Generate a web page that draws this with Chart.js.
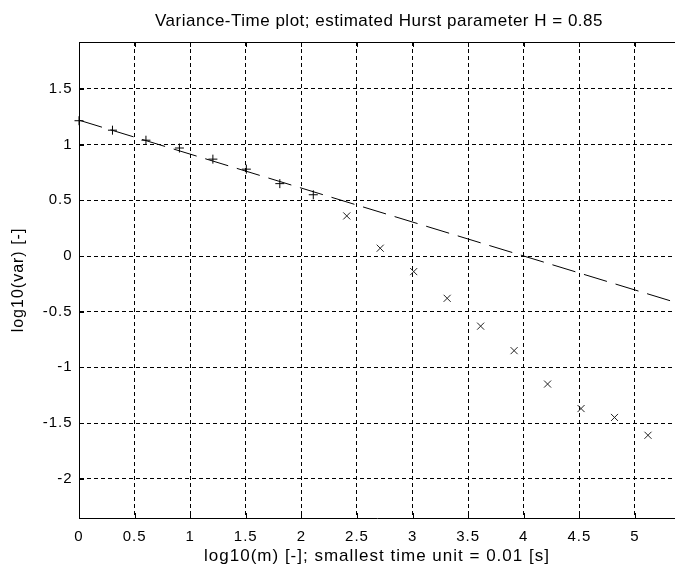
<!DOCTYPE html>
<html>
<head>
<meta charset="utf-8">
<script src="https://cdn.jsdelivr.net/npm/chart.js@4/dist/chart.umd.min.js"></script>
<style>
html,body{margin:0;padding:0;background:#fff;overflow:hidden;}
#wrap{width:675px;height:570px;position:relative;}
</style>
</head>
<body>
<div id="wrap"><canvas id="c" width="675" height="570"></canvas></div>
<script>
const titleText = 'Variance-Time plot; estimated Hurst parameter H = 0.85';
const xLabel = 'log10(m) [-]; smallest time unit = 0.01 [s]';
const yLabel = 'log10(var) [-]';

const fitX = [0, 0.301, 0.602, 0.903, 1.204, 1.505, 1.806, 2.107];
const fitY = [1.215, 1.13, 1.04, 0.97, 0.87, 0.78, 0.65, 0.55];
const restX = [2.408, 2.709, 3.010, 3.311, 3.612, 3.913, 4.214, 4.515, 4.816, 5.117];
const restY = [0.36, 0.07, -0.14, -0.38, -0.63, -0.85, -1.15, -1.37, -1.45, -1.61];
const lineX = [0, 5.36];
const lineY = [1.22, -0.415];

const xTickVals = [0, 0.5, 1, 1.5, 2, 2.5, 3, 3.5, 4, 4.5, 5];
const yTickVals = [-2, -1.5, -1, -0.5, 0, 0.5, 1, 1.5];

const FONT = "'Liberation Sans', Arial, sans-serif";

const pts = (xs, ys) => xs.map((x, i) => ({x: x, y: ys[i]}));

const spacingPlugin = {
  id: 'textSpacing',
  beforeDraw(chart) {
    if ('letterSpacing' in chart.ctx) chart.ctx.letterSpacing = '1px';
  }
};

const boxPlugin = {
  id: 'matlabBox',
  afterDraw(chart) {
    const {ctx, chartArea: a, scales: {x, y}} = chart;
    ctx.save();
    ctx.strokeStyle = '#000';
    ctx.lineWidth = 1;
    ctx.setLineDash([]);
    ctx.beginPath();
    ctx.moveTo(a.left, Math.round(a.top) + 0.5);
    ctx.lineTo(a.right, Math.round(a.top) + 0.5);
    ctx.stroke();
    // inward tick marks
    ctx.beginPath();
    xTickVals.forEach(v => {
      const px = Math.round(x.getPixelForValue(v)) + 0.5;
      ctx.moveTo(px, a.bottom); ctx.lineTo(px, a.bottom - 5);
      ctx.moveTo(px, a.top); ctx.lineTo(px, a.top + 5);
    });
    yTickVals.forEach(v => {
      const py = Math.round(y.getPixelForValue(v)) + 0.5;
      ctx.moveTo(a.left, py); ctx.lineTo(a.left + 5, py);
    });
    ctx.stroke();
    // title
    if ('letterSpacing' in ctx) ctx.letterSpacing = '0.5px';
    ctx.fillStyle = '#000';
    ctx.font = '17px ' + FONT;
    ctx.textAlign = 'center';
    ctx.textBaseline = 'middle';
    ctx.fillText(titleText, (a.left + a.right) / 2 + 2, 21);
    ctx.restore();
    if ('letterSpacing' in ctx) ctx.letterSpacing = '0px';
  }
};

new Chart(document.getElementById('c'), {
  type: 'scatter',
  data: {
    datasets: [
      {
        type: 'line',
        data: pts(lineX, lineY),
        borderColor: '#000',
        borderWidth: 1,
        borderDash: [24, 9],
        pointRadius: 0,
        fill: false,
        order: 2
      },
      {
        data: pts(fitX, fitY),
        pointStyle: 'cross',
        pointRadius: 4.5,
        pointBorderColor: '#000',
        pointBorderWidth: 1,
        borderColor: '#000',
        backgroundColor: '#000',
        clip: false,
        order: 1
      },
      {
        data: pts(restX, restY),
        pointStyle: 'crossRot',
        pointRadius: 5,
        pointBorderColor: '#222',
        pointBorderWidth: 1,
        borderColor: '#222',
        backgroundColor: '#222',
        order: 1
      }
    ]
  },
  options: {
    responsive: false,
    animation: false,
    events: [],
    layout: {autoPadding: false, padding: {left: 0, right: 0, top: 42, bottom: 0}},
    plugins: {
      legend: {display: false},
      tooltip: {enabled: false},
      title: {display: false}
    },
    scales: {
      x: {
        type: 'linear',
        min: 0,
        max: 5.36,
        afterBuildTicks: s => { s.ticks = xTickVals.map(v => ({value: v})); },
        afterFit: s => { s.height = 52; },
        ticks: {
          includeBounds: false,
          color: '#000',
          padding: 10,
          font: {family: FONT, size: 15},
          maxRotation: 0,
          autoSkip: false,
          callback: v => String(v)
        },
        grid: {color: '#000', lineWidth: 1, drawTicks: false},
        border: {display: true, color: '#000', width: 1, dash: [4, 3]},
        title: {
          display: true,
          text: xLabel,
          color: '#000',
          font: {family: FONT, size: 17},
          padding: {top: 0, bottom: 3.5}
        }
      },
      y: {
        type: 'linear',
        min: -2.353,
        max: 1.922,
        afterBuildTicks: s => { s.ticks = yTickVals.map(v => ({value: v})); },
        afterFit: s => { s.width = 79; },
        ticks: {
          includeBounds: false,
          color: '#000',
          padding: 6.5,
          font: {family: FONT, size: 15},
          autoSkip: false,
          callback: v => String(v)
        },
        grid: {color: '#000', lineWidth: 1, drawTicks: false},
        border: {display: true, color: '#000', width: 1, dash: [4, 3]},
        title: {
          display: true,
          text: yLabel,
          color: '#000',
          font: {family: FONT, size: 16},
          padding: {top: 8.5, bottom: 0}
        }
      }
    }
  },
  plugins: [spacingPlugin, boxPlugin]
});
</script>
</body>
</html>
